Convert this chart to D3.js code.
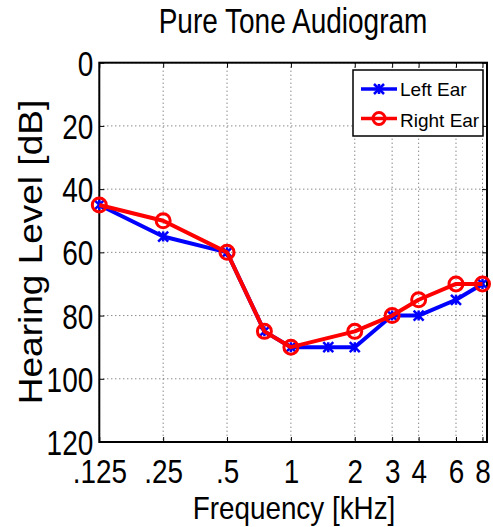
<!DOCTYPE html>
<html>
<head>
<meta charset="utf-8">
<script src="https://cdn.jsdelivr.net/npm/d3@7"></script>
<style>
  html, body { margin: 0; padding: 0; background: #fff; }
  svg { display: block; }
  text { font-family: "Liberation Sans", Arial, Helvetica, sans-serif; fill: #000; }
</style>
</head>
<body>
<div id="chart"></div>
<script>
// ---- data ----
const leftFreq  = [0.125, 0.25, 0.5, 0.75, 1, 1.5, 2, 3, 4, 6, 8];
const leftLevel = [45, 55, 60, 85, 90, 90, 90, 80, 80, 75, 70];
const rightFreq  = [0.125, 0.25, 0.5, 0.75, 1, 2, 3, 4, 6, 8];
const rightLevel = [45, 50, 60, 85, 90, 85, 80, 75, 70, 70];
const xTickValues = [0.125, 0.25, 0.5, 1, 2, 3, 4, 6, 8];
const xTickLabels = [".125", ".25", ".5", "1", "2", "3", "4", "6", "8"];
const yTickValues = [0, 20, 40, 60, 80, 100, 120];
const yTickLabels = ["0", "20", "40", "60", "80", "100", "120"];
const seriesNames = ["Left Ear", "Right Ear"];

// ---- layout ----
const W = 493, H = 527;
const L = 99.3, R = 487, T = 62.7, B = 442;

const svg = d3.select("#chart").append("svg").attr("width", W).attr("height", H);
svg.append("rect").attr("width", W).attr("height", H).attr("fill", "#fff");

const x = d3.scaleLog().domain([0.125, 8.4]).range([L, R]);
const y = d3.scaleLinear().domain([0, 120]).range([T, B]);

// grid
const grid = svg.append("g").attr("stroke", "#555").attr("stroke-width", 1).attr("stroke-dasharray", "1,3");
grid.selectAll("line.v").data(xTickValues).join("line")
  .attr("x1", d => x(d)).attr("x2", d => x(d)).attr("y1", T).attr("y2", B);
grid.selectAll("line.h").data(yTickValues).join("line")
  .attr("x1", L).attr("x2", R).attr("y1", d => y(d)).attr("y2", d => y(d));

// axes
const axB = svg.append("g").attr("transform", `translate(0,${B})`)
  .call(d3.axisBottom(x).tickValues(xTickValues).tickSizeInner(-5).tickSizeOuter(0)
    .tickFormat((d, i) => xTickLabels[i]));
axB.selectAll("text").attr("y", 41).attr("dy", 0).attr("font-size", 34)
  .attr("transform", "scale(0.82,1)");
const axT = svg.append("g").attr("transform", `translate(0,${T})`)
  .call(d3.axisTop(x).tickValues(xTickValues).tickSizeInner(-5).tickSizeOuter(0).tickFormat(""));
const axL = svg.append("g").attr("transform", `translate(${L},0)`)
  .call(d3.axisLeft(y).tickValues(yTickValues).tickSizeInner(-5).tickSizeOuter(0)
    .tickFormat((d, i) => yTickLabels[i]));
axL.selectAll("text").attr("x", -6 / 0.8).attr("dy", "0.36em").attr("font-size", 35)
  .attr("transform", "scale(0.8,1)");
const axR = svg.append("g").attr("transform", `translate(${R},0)`)
  .call(d3.axisRight(y).tickValues(yTickValues).tickSizeInner(-5).tickSizeOuter(0).tickFormat(""));
[axB, axT, axL, axR].forEach(a => {
  a.select(".domain").remove();
  a.selectAll(".tick line").attr("stroke", "#000").attr("stroke-width", 1);
  a.selectAll("text").attr("font-family", "Liberation Sans, Arial, sans-serif").attr("fill", "#000");
});
svg.append("rect").attr("x", L).attr("y", T).attr("width", R - L).attr("height", B - T)
  .attr("fill", "none").attr("stroke", "#000").attr("stroke-width", 2);

// series
const line = d3.line().x(d => x(d[0])).y(d => y(d[1]));
const leftData = leftFreq.map((f, i) => [f, leftLevel[i]]);
const rightData = rightFreq.map((f, i) => [f, rightLevel[i]]);

function xMarker(g, cx, cy, s) {
  g.append("path").attr("d", `M${cx - s},${cy - s}L${cx + s},${cy + s}M${cx - s},${cy + s}L${cx + s},${cy - s}M${cx},${cy-s}L${cx},${cy+s}`)
    .attr("stroke", "#0000ff").attr("stroke-width", 2.5).attr("fill", "none");
}
const gL = svg.append("g");
gL.append("path").datum(leftData).attr("d", line).attr("fill", "none")
  .attr("stroke", "#0000ff").attr("stroke-width", 4).attr("stroke-linejoin", "round");
leftData.forEach(d => xMarker(gL, x(d[0]), y(d[1]), 5));

const gR = svg.append("g");
gR.append("path").datum(rightData).attr("d", line).attr("fill", "none")
  .attr("stroke", "#ff0000").attr("stroke-width", 4).attr("stroke-linejoin", "round");
gR.selectAll("circle").data(rightData).join("circle")
  .attr("cx", d => x(d[0])).attr("cy", d => y(d[1])).attr("r", 7)
  .attr("fill", "none").attr("stroke", "#ff0000").attr("stroke-width", 3);

// legend
const lg = svg.append("g");
lg.append("rect").attr("x", 353).attr("y", 70).attr("width", 130).attr("height", 66)
  .attr("fill", "#fff").attr("stroke", "#000").attr("stroke-width", 1.5);
lg.append("line").attr("x1", 361).attr("x2", 397).attr("y1", 89).attr("y2", 89)
  .attr("stroke", "#0000ff").attr("stroke-width", 3.5);
xMarker(lg, 379, 89, 5);
lg.append("line").attr("x1", 361).attr("x2", 397).attr("y1", 118.5).attr("y2", 118.5)
  .attr("stroke", "#ff0000").attr("stroke-width", 3.5);
lg.append("circle").attr("cx", 379).attr("cy", 118.5).attr("r", 6)
  .attr("fill", "none").attr("stroke", "#ff0000").attr("stroke-width", 3);
lg.append("text").attr("x", 400).attr("y", 96).attr("font-size", 19).text(seriesNames[0]);
lg.append("text").attr("x", 400).attr("y", 126.5).attr("font-size", 19).text(seriesNames[1]);

// titles
svg.append("text").attr("transform", "translate(293,33) scale(0.8,1)")
  .attr("text-anchor", "middle").attr("font-size", 35).text("Pure Tone Audiogram");
svg.append("text").attr("transform", "translate(294,519) scale(0.87,1)")
  .attr("text-anchor", "middle").attr("font-size", 32).text("Frequency [kHz]");
svg.append("text").attr("transform", "translate(42,252) scale(0.88,1) rotate(-90)")
  .attr("text-anchor", "middle").attr("font-size", 37).text("Hearing Level [dB]");
</script>
</body>
</html>
